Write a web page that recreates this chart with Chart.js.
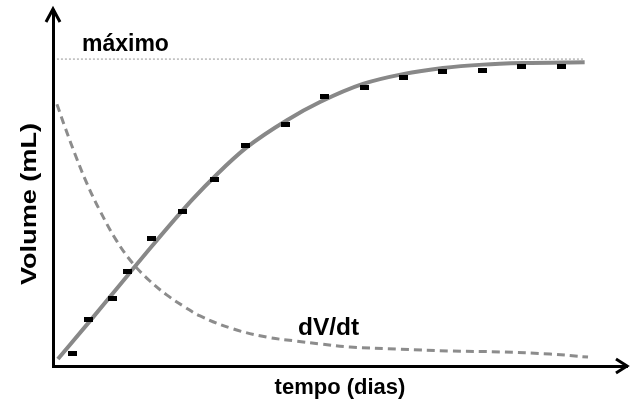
<!DOCTYPE html>
<html>
<head>
<meta charset="utf-8">
<script src="https://cdn.jsdelivr.net/npm/chart.js@4.4.1/dist/chart.umd.min.js"></script>
<style>
  html, body { margin: 0; padding: 0; background: #fff; }
  #wrap { width: 641px; height: 404px; }
</style>
</head>
<body>
<div id="wrap"><canvas id="grafico" width="641" height="404"></canvas></div>
<script>
// pontos medidos (dias, mL)
var diasMedidos = [1.2, 2, 3.2, 4, 5.2, 6.8, 8.4, 10, 12, 14, 16, 18, 20, 22, 24, 26];
var volumeMedido = [4.2, 15.3, 22.1, 30.9, 41.7, 50.2, 60.9, 71.7, 78.8, 87.9, 90.6, 94.1, 95.8, 96.4, 97.7, 97.7];

// curva ajustada do volume
var diasCurva = [0.45, 2.03, 4.0, 5.23, 7.26, 8.53, 10.05, 12.08, 13.76, 15.94, 17.97, 20.0, 22.04, 24.07, 27.2];
var volumeCurva = [2.3, 14.3, 29.6, 39.1, 54.1, 62.5, 71.3, 80.1, 86.0, 91.9, 95.1, 97.1, 98.2, 98.7, 99.0];

// taxa de crescimento dV/dt
var diasTaxa = [0.4, 0.81, 1.32, 1.92, 2.59, 3.45, 4.26, 5.12, 5.99, 6.9, 7.67, 9.34, 11.07, 12.59, 13.76, 15.28, 17.82, 20.36, 22.9, 25.44, 27.37];
var taxa = [85.3, 77.8, 69.0, 59.5, 50.5, 40.6, 33.4, 27.7, 23.1, 19.2, 16.3, 12.1, 9.4, 8.1, 7.2, 6.2, 5.5, 4.9, 4.6, 3.9, 2.9];

// linha do maximo
var volumeMaximo = 100;
var diasMaximo = [0.4, 27.2];

var fonte = '"Liberation Sans", Arial, sans-serif';

function pares(xs, ys) {
    var out = [];
    for (let i = 0; i < xs.length; i++) out.push({ x: xs[i], y: ys[i] });
    return out;
}

// marcador retangular pequeno
var marcador = document.createElement('canvas');
marcador.width = 9;
marcador.height = 5;
var mctx = marcador.getContext('2d');
mctx.fillStyle = '#000';
mctx.fillRect(0, 0, 9, 5);

// setas dos eixos e textos
var extras = {
    id: 'extras',
    afterDraw: function(chart) {
        var ctx = chart.ctx;
        var a = chart.chartArea;
        ctx.save();
        ctx.strokeStyle = '#000';
        ctx.lineWidth = 3;
        ctx.beginPath();
        ctx.moveTo(a.left - 7, a.top + 12);
        ctx.lineTo(a.left, a.top - 1);
        ctx.lineTo(a.left + 7, a.top + 12);
        ctx.stroke();
        ctx.beginPath();
        ctx.moveTo(a.right - 11, a.bottom - 7);
        ctx.lineTo(a.right, a.bottom);
        ctx.lineTo(a.right - 11, a.bottom + 7);
        ctx.stroke();

        ctx.fillStyle = '#000';
        ctx.textBaseline = 'alphabetic';
        ctx.textAlign = 'left';
        ctx.font = 'bold 23px ' + fonte;
        ctx.fillText('máximo', 82, 51);
        ctx.font = 'bold 24.5px ' + fonte;
        ctx.fillText('dV/dt', 298, 335);

        // titulo do eixo y
        ctx.font = 'bold 22px ' + fonte;
        var w = ctx.measureText('Volume (mL)').width;
        ctx.translate(36, 204);
        ctx.rotate(-Math.PI / 2);
        ctx.scale(162 / w, 1);
        ctx.textAlign = 'center';
        ctx.fillText('Volume (mL)', 0, 0);
        ctx.restore();
    }
};

new Chart(document.getElementById('grafico'), {
    type: 'line',
    data: {
        datasets: [
            {
                label: 'medido',
                data: pares(diasMedidos, volumeMedido),
                showLine: false,
                pointStyle: marcador,
                pointRadius: 5,
                order: 0
            },
            {
                label: 'volume',
                data: pares(diasCurva, volumeCurva),
                borderColor: '#888888',
                borderWidth: 4,
                pointRadius: 0,
                cubicInterpolationMode: 'monotone',
                order: 1
            },
            {
                label: 'dV/dt',
                data: pares(diasTaxa, taxa),
                borderColor: '#8c8c8c',
                borderWidth: 3,
                borderDash: [8, 5],
                pointRadius: 0,
                tension: 0.4,
                order: 2
            },
            {
                label: 'máximo',
                data: pares(diasMaximo, [volumeMaximo, volumeMaximo]),
                borderColor: '#b8b8b8',
                borderWidth: 1.5,
                borderDash: [2, 2],
                pointRadius: 0,
                order: 3
            }
        ]
    },
    options: {
        responsive: false,
        animation: false,
        layout: { padding: { left: 53, right: 14, top: 10, bottom: 0 } },
        plugins: { legend: { display: false }, tooltip: { enabled: false } },
        scales: {
            x: {
                type: 'linear',
                min: 0.2,
                max: 29.35,
                grid: { display: false, drawTicks: false },
                ticks: { display: false },
                border: { display: true, color: '#000', width: 3 },
                title: {
                    display: true,
                    text: 'tempo (dias)',
                    color: '#000',
                    font: { family: fonte, size: 22, weight: 'bold' },
                    padding: { top: 8.8, bottom: 2.8 }
                }
            },
            y: {
                min: 0,
                max: 116,
                grid: { display: false, drawTicks: false },
                ticks: { display: false },
                border: { display: true, color: '#000', width: 3 }
            }
        }
    },
    plugins: [extras]
});
</script>
</body>
</html>
